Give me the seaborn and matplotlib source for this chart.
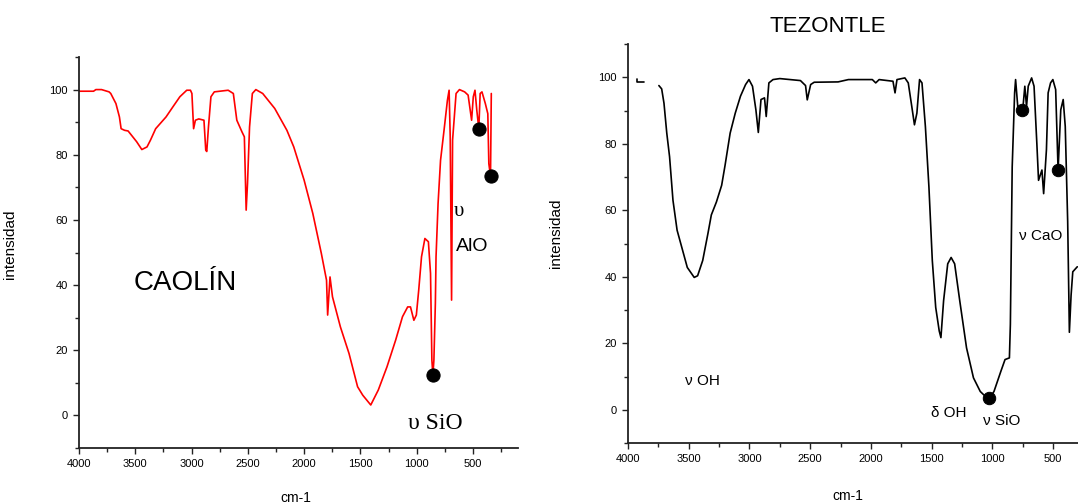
import numpy as np
import pandas as pd
import matplotlib
matplotlib.use("Agg")
import matplotlib.pyplot as plt
from matplotlib.ticker import MultipleLocator
import seaborn as sns

## Data
caolin_wn = [4000, 3871, 3850, 3800, 3733, 3718, 3672, 3641, 3626, 3595, 3564, 3534, 3488, 3442, 3396,
             3365, 3319, 3227, 3166, 3104, 3043, 3010, 2997, 2982, 2966, 2936, 2890, 2874, 2865, 2850,
             2828, 2798, 2675, 2629, 2598, 2552, 2531, 2515, 2503, 2485, 2460, 2429, 2368, 2261, 2153,
             2092, 2000, 1923, 1847, 1801, 1791, 1770, 1748, 1678, 1601, 1525, 1479, 1408, 1341, 1264,
             1187, 1126, 1080, 1055, 1025, 1003, 982, 957, 927, 896, 877, 865, 856, 847, 834,
             828, 810, 788, 757, 727, 712, 702, 690, 681, 650, 620, 574, 543, 512, 497,
             482, 466, 448, 436, 420, 390, 368, 359, 344, 337]
caolin_val = [99.5, 99.5, 100, 100, 99.3, 98.8, 95.7, 91.6, 88, 87.5, 87.3, 86, 84, 81.6, 82.4,
              84.5, 88, 91.6, 94.7, 97.8, 99.8, 99.8, 98.8, 88, 90.6, 91, 90.6, 81.4, 81, 88.5,
              97.8, 99.3, 99.8, 98.8, 90.6, 87, 85.5, 63, 71.2, 88.5, 98.8, 100, 98.8, 94.2, 87.5,
              82.4, 72.2, 62, 49.7, 41.5, 30.8, 42.5, 36.4, 27.2, 19, 8.8, 6.2, 3.2, 7.8, 14.9,
              23.1, 30.3, 33.3, 33.3, 29.2, 30.8, 38.4, 48.7, 54.3, 53.3, 43.6, 17, 12.4, 17, 34.4,
              48.7, 65, 78.3, 87.5, 96.7, 99.8, 85.5, 35.4, 84.5, 98.8, 100, 99.3, 98.3, 90.6, 97.8,
              99.8, 93.7, 88, 98.8, 99.3, 95.7, 92.6, 77.3, 73.4, 98.8]
caolin_dot_wn = [856, 448, 344]
caolin_dot_val = [12.4, 88, 73.4]

tez_stub_wn = [3925, 3925, 3870]
tez_stub_val = [99.5, 98.5, 98.5]
tez_wn = [3746, 3723, 3704, 3681, 3658, 3630, 3596, 3554, 3512, 3455, 3427, 3385, 3342, 3314, 3272,
          3229, 3201, 3159, 3117, 3074, 3032, 3004, 2975, 2947, 2927, 2905, 2876, 2862, 2840, 2806,
          2750, 2580, 2538, 2524, 2496, 2467, 2270, 2185, 1988, 1960, 1932, 1818, 1801, 1785, 1720,
          1692, 1663, 1641, 1621, 1599, 1579, 1551, 1522, 1494, 1466, 1437, 1423, 1401, 1367, 1339,
          1310, 1268, 1212, 1155, 1099, 1042, 1028, 986, 929, 895, 859, 851, 836, 816, 808,
          788, 760, 752, 732, 718, 704, 676, 656, 633, 619, 591, 577, 554, 540, 520,
          501, 478, 458, 436, 416, 399, 379, 365, 351, 337, 300]
tez_val = [97.5, 96.5, 92.2, 83.2, 76.1, 63, 54, 48.4, 42.8, 39.8, 40.3, 44.9, 53, 58.6, 62.5,
           67.5, 73.5, 83.2, 89.2, 94.3, 97.8, 99.3, 97.3, 90.2, 83.4, 93.3, 93.8, 88.2, 98.3, 99.3,
           99.6, 99, 97.5, 93.2, 97.8, 98.5, 98.6, 99.3, 99.3, 98.3, 99.3, 98.8, 95.3, 99.3, 99.8,
           98.3, 91.2, 85.7, 89.2, 99.3, 98.3, 85.2, 67.1, 44.9, 30.8, 23.7, 21.7, 32.8, 43.9, 45.8,
           43.9, 32.8, 18.6, 9.6, 5.5, 3.5, 3.2, 5.5, 11.6, 15.1, 15.6, 25.7, 73, 95.3, 99.3,
           90.2, 90.2, 89, 97.3, 91.2, 97.3, 99.8, 97.3, 80.1, 69, 72.1, 65, 78.2, 95.3, 98.3,
           99.3, 96.3, 72.1, 90.2, 93.3, 85.2, 56.6, 23.3, 34.4, 41.5, 43]
tez_dot_wn = [1028, 752, 458]
tez_dot_val = [3.5, 90.2, 72.1]

x_ticks = [4000, 3500, 3000, 2500, 2000, 1500, 1000, 500]
y_ticks = [0, 20, 40, 60, 80, 100]

sns.set_style("ticks")
plt.rcParams["font.family"] = ["Liberation Sans", "DejaVu Sans"]
plt.rcParams["text.color"] = "black"
plt.rcParams["axes.labelcolor"] = "black"
plt.rcParams["xtick.major.size"] = 4.5
plt.rcParams["ytick.major.size"] = 4.5
plt.rcParams["xtick.minor.size"] = 3
plt.rcParams["ytick.minor.size"] = 3

fig = plt.figure(figsize=(10.78, 5.04), dpi=100)
ax1 = fig.add_axes([0.0733, 0.1111, 0.4072, 0.7758])
ax2 = fig.add_axes([0.5826, 0.121, 0.4174, 0.7917])


def style_axis(ax, xright):
    ax.set_xlim(4000, xright)
    ax.set_ylim(-10, 110)
    ax.set_xticks(x_ticks)
    ax.set_yticks(y_ticks)
    ax.xaxis.set_minor_locator(MultipleLocator(250))
    ax.yaxis.set_minor_locator(MultipleLocator(10))
    ax.tick_params(which="both", direction="out", width=1, colors="#222222",
                   labelcolor="black", labelsize=8)
    sns.despine(ax=ax)
    for s in ["left", "bottom"]:
        ax.spines[s].set_linewidth(1.3)
        ax.spines[s].set_color("#222222")
    ax.set_xlabel("cm-1", fontsize=10)
    ax.set_ylabel("intensidad", fontsize=11)


# CAOLIN
sns.lineplot(x=caolin_wn, y=caolin_val, ax=ax1, color="red", lw=1.2, estimator=None, sort=False)
sns.scatterplot(x=caolin_dot_wn, y=caolin_dot_val, ax=ax1, color="black", s=90, edgecolor="black", zorder=5)
style_axis(ax1, 100)
ax1.xaxis.set_label_coords(0.494, -0.11)
ax1.yaxis.set_label_coords(-0.141, 0.52)
ax1.text(3060, 40.6, "CAOLÍN", fontsize=20, ha="center", va="center")
ax1.text(838, -2.5, "υ SiO", fontsize=17, ha="center", va="center", family="Liberation Serif")
ax1.text(625, 62.5, "υ", fontsize=15, ha="center", va="center", family="Liberation Serif")
ax1.text(510, 51.7, "AlO", fontsize=14, ha="center", va="center")

# TEZONTLE
sns.lineplot(x=tez_stub_wn, y=tez_stub_val, ax=ax2, color="black", lw=1.2, estimator=None, sort=False)
sns.lineplot(x=tez_wn, y=tez_val, ax=ax2, color="black", lw=1.2, estimator=None, sort=False)
sns.scatterplot(x=tez_dot_wn, y=tez_dot_val, ax=ax2, color="black", s=80, edgecolor="black", zorder=5)
style_axis(ax2, 294)
ax2.xaxis.set_label_coords(0.489, -0.115)
ax2.yaxis.set_label_coords(-0.144, 0.526)
ax2.text(3385, 8.6, "ν OH", fontsize=11, ha="center", va="center")
ax2.text(1361, -1, "δ OH", fontsize=11, ha="center", va="center")
ax2.text(924, -3.3, "ν SiO", fontsize=11, ha="center", va="center")
ax2.text(605, 52.4, "ν CaO", fontsize=11, ha="center", va="center")
fig.text(828 / 1078, 1 - 27 / 504, "TEZONTLE", fontsize=16, ha="center", va="center")

fig.savefig("out.png", dpi=100)
